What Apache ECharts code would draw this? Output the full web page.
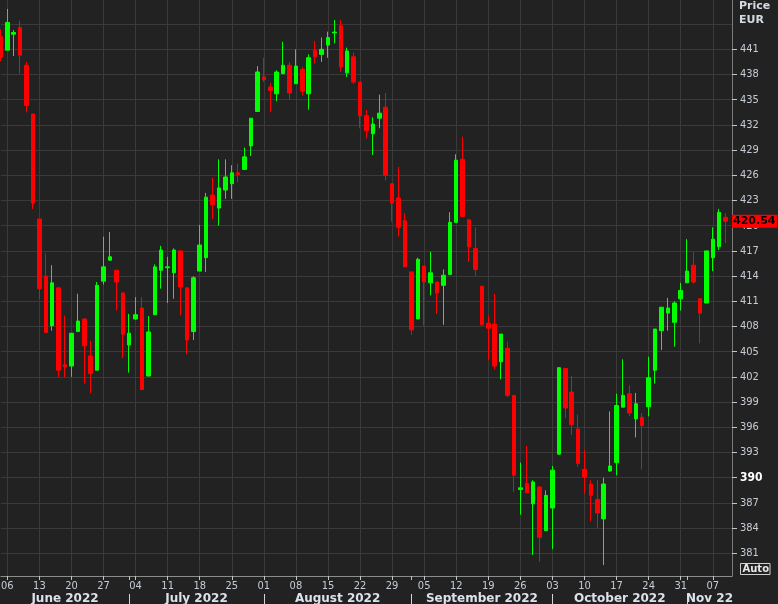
<!DOCTYPE html>
<html><head><meta charset="utf-8">
<script src="https://cdn.jsdelivr.net/npm/echarts@6/dist/echarts.min.js"></script>
<style>html,body{margin:0;padding:0;background:#222222;}#c{width:778px;height:604px;}</style>
</head><body><div id="c"></div>
<script>
// ---- data (trading days 2022-06-03 .. 2022-11-09) ----
const openP = [442.5,440.9,442.8,443.6,439.1,433.3,420.8,414.0,408.1,412.6,403.45,403.3,407.4,408.9,404.5,402.8,413.4,415.9,414.7,412.0,405.8,
408.9,410.2,402.1,409.4,414.7,415.0,414.4,417.0,412.6,407.4,414.6,416.2,423.65,422.1,424.25,425.0,426.3,426.7,429.5,433.6,
437.7,436.5,435.7,438.1,439.1,436.9,438.6,435.7,440.9,440.4,441.5,442.95,443.8,438.2,440.1,437.1,433.1,430.95,432.8,434.1,
425.0,423.3,420.6,414.5,408.9,415.2,413.2,413.3,412.9,414.2,420.4,427.9,420.7,417.3,412.8,408.4,408.3,403.8,405.4,399.8,
388.6,389.3,386.9,388.9,383.7,386.4,392.8,403.0,400.2,395.8,391.0,389.25,387.4,385.1,390.8,391.8,398.4,400.0,397.0,397.2,
398.45,402.8,407.5,409.6,408.5,411.3,413.2,415.3,411.3,410.8,416.2,417.5,421.0];
const closeP = [440.0,444.2,443.0,440.3,434.3,422.7,412.5,407.3,413.2,402.8,403.2,407.2,408.65,405.7,402.4,412.9,415.1,416.3,413.3,407.1,407.2,
409.4,400.5,407.35,415.1,417.1,415.1,417.1,412.7,406.4,413.8,417.7,423.4,422.5,424.5,425.8,426.3,426.1,428.2,432.8,438.3,
437.4,436.1,438.3,439.1,435.8,439.0,436.0,440.0,440.1,441.0,442.4,443.05,438.9,440.8,437.1,433.1,431.3,432.1,433.4,426.0,
422.7,419.8,415.1,407.6,416.0,413.3,414.4,412.0,414.1,420.4,427.8,421.1,417.5,414.8,408.2,407.8,403.3,407.1,399.8,390.3,
388.8,388.2,389.5,382.9,387.9,390.9,403.1,398.3,396.3,391.7,390.1,387.9,385.8,389.25,391.4,398.6,399.8,397.7,398.8,396.2,
401.9,407.7,410.3,410.2,410.8,412.3,414.6,413.3,409.6,417.0,418.4,421.6,420.54];
const lowP = [439.6,440.9,440.2,438.1,433.5,422.0,411.3,407.2,407.5,402.0,401.95,402.0,407.4,401.2,400.05,402.8,413.0,415.8,409.9,404.25,402.5,
408.8,400.4,402.1,409.4,412.5,410.8,411.3,409.3,404.7,406.4,414.6,414.5,420.8,420.0,423.2,423.2,425.2,426.7,428.3,433.6,
437.1,433.5,434.8,438.1,435.0,436.9,435.5,433.8,439.3,439.5,440.0,441.7,438.3,437.7,436.9,431.6,430.4,428.4,431.6,425.4,
420.5,418.7,415.1,407.0,408.9,408.1,411.7,409.5,408.2,414.2,420.4,421.1,415.7,414.05,408.0,404.0,402.9,401.7,399.6,388.3,
385.6,388.2,380.8,380.0,383.7,381.5,392.8,397.1,395.1,391.3,388.1,384.8,384.0,379.6,390.7,390.3,398.4,397.3,394.8,391.0,
397.3,401.2,405.2,407.5,405.6,409.9,413.2,413.1,406.0,410.8,414.6,417.1,417.9];
const highP = [443.4,445.8,443.3,444.4,439.5,433.3,420.8,416.7,415.3,412.6,409.3,407.2,411.9,408.9,406.3,413.3,418.7,419.25,414.7,412.0,409.5,
411.5,411.5,409.25,415.4,417.6,416.3,417.3,417.1,412.6,414.0,420.1,423.9,425.7,427.9,427.9,427.2,427.4,429.3,432.8,439.0,
440.0,437.0,438.5,441.9,439.5,441.0,438.9,440.4,442.0,442.4,443.1,444.5,444.5,441.2,440.6,437.1,433.8,432.9,435.6,435.8,
425.0,427.0,421.5,414.5,416.2,415.2,416.9,413.3,414.8,421.6,428.5,430.6,420.7,419.8,412.8,409.3,411.9,407.1,406.2,399.8,
391.8,393.8,389.7,388.9,388.5,391.4,403.1,403.0,402.1,397.5,393.3,389.7,389.7,390.0,397.9,400.0,404.1,401.0,400.1,397.7,
404.4,407.7,410.3,411.4,411.0,413.2,418.4,416.9,411.3,417.0,419.8,422.0,421.5];
const yTickLabels = [381,384,387,390,393,396,399,402,405,408,411,414,417,420,423,426,429,432,435,438,441];
const yGridValues = [381,384,387,390,393,396,399,402,405,408,411,414,417,420,423,426,429,432,435,438,441,444];
const monthLabels = ['June 2022','July 2022','August 2022','September 2022','October 2022','Nov 22'];
const currentPrice = 420.54;
const yMin = 378.3, yMax = 446.87;

// ---- categories: weekdays from first to last day (one spare day at right) ----
const dates = [];
for (let d = new Date(Date.UTC(2022,5,3)); d <= new Date(Date.UTC(2022,10,10)); d.setUTCDate(d.getUTCDate()+1)) {
  const wd = d.getUTCDay();
  if (wd === 0 || wd === 6) continue;
  dates.push(d.toISOString().slice(0,10));
}
const isMonday = i => new Date(dates[i] + 'T00:00:00Z').getUTCDay() === 1;
const isMonthStart = i => i > 0 && dates[i].slice(5,7) !== dates[i-1].slice(5,7);

const starts = [0];
dates.forEach((d,i) => { if (isMonthStart(i)) starts.push(i); });
const monthLabelAt = {};
starts.forEach((s,k) => {
  const e = k + 1 < starts.length ? starts[k+1] : dates.length - 1;
  const mid = (s + e) / 2;
  monthLabelAt[Math.floor(mid)] = {text: monthLabels[k], half: mid % 1 !== 0};
});

const candles = openP.map((o,i) => [o, closeP[i], lowP[i], highP[i]]);

const W = 778, gridLeft = 0.9, gridRight = 46, gridBottom = 28;
const step = (W - gridLeft - gridRight) / (dates.length - 1);
const F = "'DejaVu Sans Condensed','DejaVu Sans',sans-serif";
const FB = "'DejaVu Sans','Liberation Sans',sans-serif";

const chart = echarts.init(document.getElementById('c'), null, {renderer:'canvas', width:778, height:604});
chart.setOption({
  backgroundColor: '#222222',
  animation: false,
  grid: {left: gridLeft, right: gridRight, top: 0, bottom: gridBottom, containLabel: false, outerBoundsMode: 'none'},
  xAxis: [
    {type:'category', data: dates, boundaryGap: false,
     axisLine: {show: true, lineStyle: {color: '#8c8c8c', width: 1}},
     axisTick: {show: true, interval: i => isMonday(i) || isMonthStart(i), length: 4, lineStyle: {color: '#c4c4c4'}},
     axisLabel: {show: true, interval: i => isMonday(i), formatter: v => v.slice(8,10), color: '#c6ccd6',
                 fontSize: 11, fontFamily: F, margin: 5, hideOverlap: false},
     splitLine: {show: true, interval: i => isMonday(i), lineStyle: {color: '#3a3a3a', width: 1}}
    },
    {type:'category', data: dates, boundaryGap: false, position: 'bottom', offset: 18,
     axisLine: {show: false},
     axisTick: {show: true, interval: i => isMonthStart(i), length: 10, lineStyle: {color: '#d4d4d4'}},
     axisLabel: {show: true, interval: i => monthLabelAt[i] !== undefined, hideOverlap: false,
                 formatter: (v,i) => { const m = monthLabelAt[i]; return m ? (m.half ? '{h|' + m.text + '}' : '{c|' + m.text + '}') : ''; },
                 color: '#dbe2ec', fontSize: 12, fontWeight: 'bold', fontFamily: FB, margin: 5, verticalAlign: 'middle',
                 rich: {
                   c: {color: '#dbe2ec', fontSize: 12, fontWeight: 'bold', fontFamily: FB},
                   h: {color: '#dbe2ec', fontSize: 12, fontWeight: 'bold', fontFamily: FB, padding: [0,0,0,step]}
                 }},
     splitLine: {show: false}
    }
  ],
  yAxis: [
    {type:'value', position:'right', min: yMin, max: yMax,
     axisLine: {show: true, lineStyle: {color: '#7a7a7a'}},
     axisTick: {show: true, customValues: yTickLabels, length: 5, lineStyle: {color: '#c4c4c4'}},
     axisLabel: {show: true, customValues: yTickLabels, color: '#c6ccd6', fontSize: 11, fontFamily: F, margin: 8,
                 formatter: v => v === 390 ? '{b|390}' : String(v),
                 rich: {b: {color: '#ffffff', fontWeight: 'bold', fontSize: 12, fontFamily: F}}},
     splitLine: {show: false}
    },
    {type:'value', position:'right', min: yMin, max: yMax,
     axisLine: {show: false},
     axisTick: {show: false, customValues: yGridValues},
     axisLabel: {show: false, customValues: yGridValues},
     splitLine: {show: true, lineStyle: {color: '#3a3a3a', width: 1}}
    }
  ],
  series: [{
    type: 'candlestick', xAxisIndex: 0, yAxisIndex: 0, data: candles, barWidth: 4, clip: false,
    itemStyle: {color: '#00ff00', color0: '#ff0000', borderColor: '#00ff00', borderColor0: '#ff0000', borderWidth: 1},
    markLine: {silent: true, symbol: 'none', animation: false, data: [{yAxis: currentPrice}],
      lineStyle: {color: 'rgba(0,0,0,0)', width: 1, type: 'solid'},
      emphasis: {disabled: true},
      label: {show: true, position: 'end', distance: 0, formatter: () => currentPrice.toFixed(2),
              backgroundColor: '#ff0000', color: '#000000', fontWeight: 'bold', fontSize: 11, fontFamily: FB,
              padding: [1,2,0,1], lineHeight: 12, opacity: 1}}
  }],
  graphic: [
    {type: 'text', left: 739, top: 1, style: {text: 'Price', fill: '#d6dbe3', font: "bold 11px 'DejaVu Sans'"}},
    {type: 'text', left: 739, top: 15, style: {text: 'EUR', fill: '#d6dbe3', font: "bold 11px 'DejaVu Sans'"}},
    {type: 'text', left: 740, top: 563, style: {text: 'Auto', fill: '#e8e8e8', font: "bold 10px 'DejaVu Sans'",
      borderColor: '#d0d0d0', borderWidth: 1, padding: [1,1,0,2]}}
  ]
});
</script></body></html>
